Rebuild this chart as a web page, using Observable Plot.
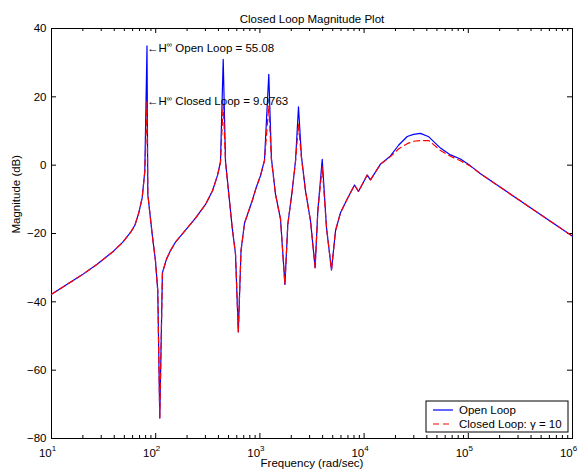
<!DOCTYPE html>
<html>
<head>
<meta charset="utf-8">
<script src="https://cdn.jsdelivr.net/npm/d3@7"></script>
<script src="https://cdn.jsdelivr.net/npm/@observablehq/plot@0.6"></script>
<style>
  html, body { margin: 0; padding: 0; background: #fff; }
  #chart { width: 579px; height: 472px; }
</style>
</head>
<body>
<div id="chart"></div>
<script>
// ---- data ----
const freq = [10, 19, 27.4, 39.6, 48.1, 57.3, 63.3, 68.9, 74.2, 78.6, 82.5, 84.0, 92.5, 99.5, 104.7, 109.4,
  116, 126.9, 138.7, 154.9, 193.2, 241.1, 300.7, 350.9, 391.8, 418.6, 444.5, 467.9, 542.4, 583.3, 620.5,
  659, 711.5, 843.7, 927.4, 1013, 1107, 1217, 1290, 1411, 1577, 1738, 1853, 2042, 2197, 2346, 2505,
  2739, 3060, 3388, 3597, 3964, 4357, 4864, 5317, 5936, 6887, 8094, 8831, 10710, 11520, 14360,
  17910, 21510, 25940, 29790, 34750, 41780, 54080, 67450, 84140, 104900, 130900, 1000000];
const openLoopDb = [-37.8, -32.4, -29.0, -25.1, -22.6, -19.7, -17.5, -13.9, -9.5, -1.7, 34.9, -8.5, -20.2, -28, -36.8, -74,
  -31.5, -27.5, -25, -22.5, -19, -15.5, -11.5, -7.5, -3, 1, 31.0, 1, -18.3, -26, -48.8,
  -25, -17, -10.4, -6.3, -3.1, 1.5, 26.6, 2, -8.5, -15.8, -34.9, -17.3, -7.5, 1.3, 17.1, 2.5,
  -7.5, -16.3, -30, -13.4, 1.7, -18.3, -30.7, -19.2, -13.9, -9.9, -5.8, -7.7, -2.9, -4.3, 0.3,
  2.7, 5.9, 8.4, 9.0, 9.3, 8.3, 5.0, 3.0, 1.8, -0.2, -2.5, -20.8];
const closedLoopDb = [-37.8, -32.4, -29.0, -25.1, -22.6, -19.7, -17.5, -13.9, -9.5, -1.9, 18.6, -8.5, -20.2, -28, -36.8, -74,
  -31.5, -27.5, -25, -22.5, -19, -15.5, -11.5, -7.5, -3, 0.8, 17.9, 0.8, -18.3, -26, -48.8,
  -25, -17, -10.4, -6.3, -3.1, 1.3, 17.4, 1.5, -8.5, -15.8, -34.9, -17.3, -7.5, 1.0, 12.0, 2.0,
  -7.5, -16.3, -30, -13.4, -0.5, -18.3, -30.7, -19.2, -13.9, -9.9, -5.8, -7.7, -2.9, -4.3, 0.3,
  2.5, 4.8, 6.3, 7.0, 7.2, 7.2, 4.3, 2.6, 1.3, -0.3, -2.5, -20.8];

const seriesNames = ["Open Loop", "Closed Loop: \u03b3 = 10"];
const xTicks = [10, 100, 1000, 10000, 100000, 1000000];
const xTickLabels = ["10^{1}", "10^{2}", "10^{3}", "10^{4}", "10^{5}", "10^{6}"];
const yTicks = [-80, -60, -40, -20, 0, 20, 40];
const annotFreq = [82.5, 82.5];
const annotDb = [34.8, 19.2];
const annotText = ["\u2190H^{\u221e} Open Loop = 55.08", "\u2190H^{\u221e} Closed Loop = 9.0763"];
const titleText = "Closed Loop Magnitude Plot";
const xLabel = "Frequency (rad/sec)";
const yLabel = "Magnitude (dB)";

// ---- tables built from the arrays ----
const openRows = freq.map((f, i) => ({f, db: openLoopDb[i]}));
const closedRows = freq.map((f, i) => ({f, db: closedLoopDb[i]}));
const xTickRows = xTicks.map((v, i) => ({v, label: xTickLabels[i]}));
const xMinor = xTicks.slice(0, -1).flatMap(d => [2, 3, 4, 5, 6, 7, 8, 9].map(k => k * d));
const annotRows = annotFreq.map((f, i) => ({f, db: annotDb[i], label: annotText[i]}));

const FONT = "'Liberation Sans', Arial, Helvetica, sans-serif";
const FS = 11.5;
const W = 579, H = 472, ML = 51, MR = 7, MT = 28, MB = 34;
const PW = W - ML - MR, PH = H - MT - MB;

const fmtY = d3.format("d");

const chart = Plot.plot({
  width: W, height: H,
  marginLeft: ML, marginRight: MR, marginTop: MT, marginBottom: MB,
  style: {fontFamily: FONT, fontSize: FS + "px", background: "#fff", color: "#000"},
  x: {type: "log", domain: [10, 1e6], axis: null},
  y: {domain: [-80, 40], axis: null},
  marks: [
    Plot.frame({stroke: "#000", strokeWidth: 1}),
    // ticks (inside, all four sides)
    Plot.tickX(xTicks, {x: d => d, insetTop: PH - 5, stroke: "#000"}),
    Plot.tickX(xTicks, {x: d => d, insetBottom: PH - 5, stroke: "#000"}),
    Plot.tickX(xMinor, {x: d => d, insetTop: PH - 3, stroke: "#000"}),
    Plot.tickX(xMinor, {x: d => d, insetBottom: PH - 3, stroke: "#000"}),
    Plot.tickY(yTicks, {y: d => d, insetRight: PW - 5, stroke: "#000"}),
    Plot.tickY(yTicks, {y: d => d, insetLeft: PW - 5, stroke: "#000"}),
    // tick labels
    Plot.text(xTickRows, {x: "v", text: "label", frameAnchor: "bottom", lineAnchor: "bottom",
      dy: 18, dx: -4, fontSize: FS}),
    Plot.text(yTicks, {y: d => d, text: d => fmtY(d), frameAnchor: "left", textAnchor: "end",
      dx: -5, fontSize: FS}),
    // axis labels and title
    Plot.text([xLabel], {text: d => d, frameAnchor: "bottom", dy: 28.5, fontSize: FS}),
    Plot.text([yLabel], {text: d => d, frameAnchor: "left", rotate: -90, dx: -35, fontSize: FS}),
    Plot.text([titleText], {text: d => d, frameAnchor: "top", dy: -14, fontSize: FS}),
    // data
    Plot.line(openRows, {x: "f", y: "db", stroke: "#0000ff", strokeWidth: 1.2}),
    Plot.line(closedRows, {x: "f", y: "db", stroke: "#ff0000", strokeWidth: 1.2, strokeDasharray: "6,4"}),
    // annotations
    Plot.text(annotRows, {x: "f", y: "db", text: "label", textAnchor: "start", dy: 2, fontSize: FS})
  ]
});

// superscript handling for "base^{sup}rest" strings
function applySup(el, raise, supSize) {
  const s = el.textContent;
  const m = s.match(/^(.*?)\^\{(.*?)\}(.*)$/);
  if (!m) return;
  while (el.firstChild) el.removeChild(el.firstChild);
  const sel = d3.select(el);
  sel.append("tspan").text(m[1]);
  sel.append("tspan").attr("dy", -raise).attr("font-size", supSize).text(m[2]);
  if (m[3]) sel.append("tspan").attr("dy", raise).text(m[3]);
}
const svg = d3.select(chart);
svg.selectAll("text").each(function() {
  const s = this.textContent;
  if (s.indexOf("^{") < 0) return;
  if (s.startsWith("10")) applySup(this, 6, 8);
  else applySup(this, 4.5, 7.5);
});

// legend box (inside the plot, bottom right)
const lg = svg.append("g").attr("font-family", FONT).attr("font-size", FS)
  .attr("text-anchor", "start");
const lx = W - MR - 146, ly = H - MB - 37, lw = 142, lh = 31;
lg.append("rect").attr("x", lx).attr("y", ly).attr("width", lw).attr("height", lh)
  .attr("fill", "#fff").attr("stroke", "#000").attr("stroke-width", 1);
const legendStyles = [{stroke: "#0000ff", dash: null}, {stroke: "#ff0000", dash: "6,4"}];
seriesNames.forEach((name, i) => {
  const cy = ly + 9 + i * 14;
  lg.append("line").attr("x1", lx + 7).attr("x2", lx + 27).attr("y1", cy).attr("y2", cy)
    .attr("stroke", legendStyles[i].stroke).attr("stroke-width", 1.2)
    .attr("stroke-dasharray", legendStyles[i].dash);
  lg.append("text").attr("x", lx + 33).attr("y", cy).attr("dy", "0.35em")
    .attr("text-anchor", "start").attr("fill", "#000").text(name);
});

document.getElementById("chart").appendChild(chart);
</script>
</body>
</html>
